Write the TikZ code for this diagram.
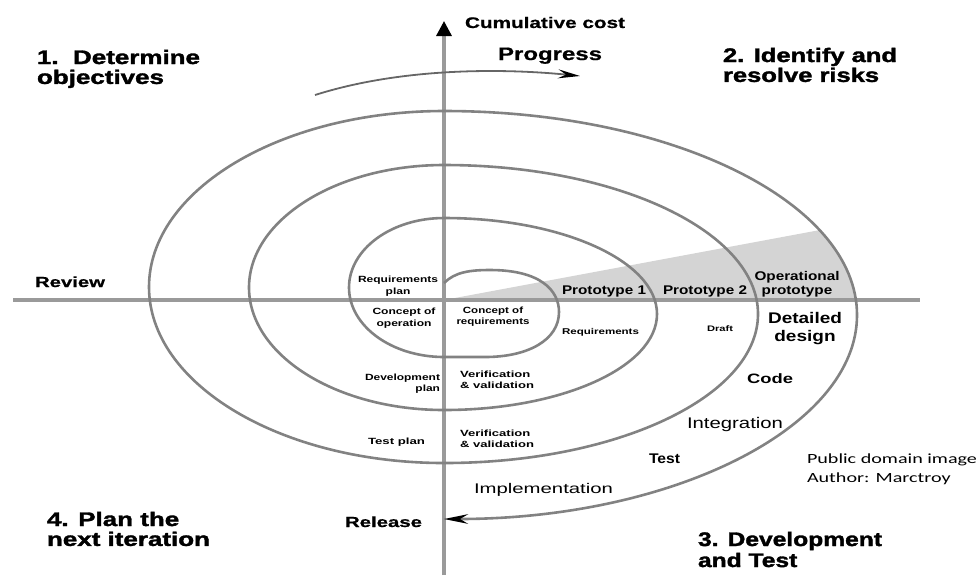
\documentclass[tikz,border=0pt]{standalone}
\usepackage{fontspec}
\usepackage{graphicx}
\usetikzlibrary{arrows.meta}
\newfontfamily\lsans{Liberation Sans}
\newfontfamily\heavy{Liberation Sans}[BoldFeatures={FakeBold=1.6}]
\newfontfamily\semiheavy{Liberation Sans}[BoldFeatures={FakeBold=0.7}]
\newfontfamily\carl{Carlito}
\definecolor{axisgray}{HTML}{9A9A9A}
\definecolor{spiralgray}{HTML}{828282}
\definecolor{arrowgray}{HTML}{666666}
\definecolor{wedgegray}{HTML}{D4D4D4}
% stretch a box to a given width, keeping its height
\newcommand{\fitw}[2]{\resizebox{#1}{\height}{#2}}
\newcommand{\fnt}[2]{\fontsize{#1}{#2}\selectfont}
\begin{document}
\begin{tikzpicture}[x=0.5pt,y=-0.5pt,
  lbl/.style={inner sep=0pt, outer sep=0pt, font=\lsans},
  axisline/.style={draw=axisgray, line width=1.6pt},
  spiralline/.style={draw=spiralgray, line width=1.3pt},
  progressline/.style={draw=arrowgray, line width=0.9pt}]
\useasboundingbox (0,0) rectangle (977,575);

% axes end points
\coordinate (west) at (13,300);
\coordinate (east) at (920,300);
\coordinate (south) at (444,575);
\coordinate (north) at (444,21);
\coordinate (origin) at (444,300);

% shaded prototype wedge, limited by the outer loop
\begin{scope}
  \clip (444,315) ellipse [x radius=206.5pt, y radius=102pt];
  \fill[wedgegray] (origin) -- (900,215.1) -- (900,300) -- cycle;
\end{scope}

% axes
\draw[axisline] (west) -- (east);
\draw[axisline, -{Triangle[length=7.5pt, width=7.5pt, color=black]}] (south) -- (north);

% the spiral, built from half ellipses
\coordinate (spiralstart) at (444,283);
\draw[spiralline, -{Stealth[length=12pt, width=4.8pt, inset=4pt, color=black]}]
  (spiralstart) .. controls (455,272) and (470,270) .. (490,270)
  .. controls (540,270) and (559,290) .. (559,312)
  .. controls (559,340) and (528,357) .. (485,357) -- (444,357)
  arc[start angle=270, end angle=90, x radius=47.5pt, y radius=34.75pt]
  arc[start angle=90, end angle=-90, x radius=106.5pt, y radius=48pt]
  arc[start angle=270, end angle=90, x radius=97.5pt, y radius=61.25pt]
  arc[start angle=90, end angle=-90, x radius=157pt, y radius=74.5pt]
  arc[start angle=270, end angle=90, x radius=147.5pt, y radius=88pt]
  arc[start angle=90, end angle=-90, x radius=206.5pt, y radius=102pt];

% progress arrow
\coordinate (pstart) at (315,95);
\coordinate (pend) at (580,76);
\draw[progressline, -{Stealth[length=11pt, width=4.5pt, inset=4pt, color=black]}]
  (pstart) .. controls (400,68) and (500,68) .. (pend);

% quadrant titles
\node[lbl, anchor=base west] (q1) at (37,64)
  {\fitw{81.5pt}{\heavy\fnt{9.8pt}{9.5pt}\bfseries\begin{tabular}[t]{@{}l@{}}1.\ \ Determine\\objectives\end{tabular}}};
\node[lbl, anchor=base west] (q2) at (723,62)
  {\fitw{87pt}{\heavy\fnt{9.8pt}{9.5pt}\bfseries\begin{tabular}[t]{@{}l@{}}2. Identify and\\resolve risks\end{tabular}}};
\node[lbl, anchor=base west] (q3) at (698,546)
  {\fitw{92pt}{\heavy\fnt{9.8pt}{10.5pt}\bfseries\begin{tabular}[t]{@{}l@{}}3. Development\\and Test\end{tabular}}};
\node[lbl, anchor=base west] (q4) at (47,526)
  {\fitw{81.5pt}{\heavy\fnt{9.8pt}{9.5pt}\bfseries\begin{tabular}[t]{@{}l@{}}4. Plan the\\next iteration\end{tabular}}};

% axis and arrow labels
\node[lbl, anchor=base west] (cost) at (465,28) {\fitw{80pt}{\semiheavy\fnt{7.7pt}{8pt}\bfseries Cumulative cost}};
\node[lbl, anchor=base west] (progress) at (498,60) {\fitw{52pt}{\semiheavy\fnt{9pt}{9pt}\bfseries Progress}};
\node[lbl, anchor=base west] (review) at (35,287) {\fitw{35pt}{\semiheavy\fnt{7.3pt}{8pt}\bfseries Review}};
\node[lbl, anchor=base west] (release) at (345,527) {\fitw{38.5pt}{\semiheavy\fnt{7.3pt}{8pt}\bfseries Release}};

% outer loop, lower right
\node[lbl, anchor=base west] (impl) at (474,493) {\fitw{69.5pt}{\fnt{7pt}{8pt}Implementation}};
\node[lbl, anchor=base west] (test) at (649,463) {\fitw{15.5pt}{\fnt{7pt}{8pt}\bfseries Test}};
\node[lbl, anchor=base west] (integ) at (687,428) {\fitw{48pt}{\fnt{7.7pt}{8pt}Integration}};
\node[lbl, anchor=base west] (code) at (747,383) {\fitw{23pt}{\fnt{6.8pt}{8pt}\bfseries Code}};
\node[lbl, anchor=base] (detail) at (805,323)
  {\fitw{37pt}{\fnt{7.7pt}{9pt}\bfseries\begin{tabular}[t]{@{}c@{}}Detailed\\design\end{tabular}}};

% prototypes
\node[lbl, anchor=base west] (proto1) at (562,294) {\fitw{42pt}{\fnt{6.3pt}{7pt}\bfseries Prototype 1}};
\node[lbl, anchor=base west] (proto2) at (663,294) {\fitw{42pt}{\fnt{6.3pt}{7pt}\bfseries Prototype 2}};
\node[lbl, anchor=base] (opproto) at (797,280)
  {\fitw{42.5pt}{\fnt{6.3pt}{7pt}\bfseries\begin{tabular}[t]{@{}c@{}}Operational\\prototype\end{tabular}}};
\node[lbl] (draft) at (720,329) {\fitw{13pt}{\fnt{4pt}{5pt}\bfseries Draft}};
\node[lbl] (reqs) at (600.5,332) {\fitw{38.5pt}{\fnt{4.2pt}{5pt}\bfseries Requirements}};

% inner loops
\node[lbl] (reqplan) at (398,286)
  {\fitw{40pt}{\fnt{4.5pt}{5.9pt}\bfseries\begin{tabular}{@{}c@{}}Requirements\\plan\end{tabular}}};
\node[lbl] (conop) at (404,318)
  {\fitw{31.5pt}{\fnt{4.5pt}{5.9pt}\bfseries\begin{tabular}{@{}c@{}}Concept of\\operation\end{tabular}}};
\node[lbl] (conreq) at (493,316.5)
  {\fitw{36.5pt}{\fnt{4.5pt}{5.6pt}\bfseries\begin{tabular}{@{}c@{}}Concept of\\requirements\end{tabular}}};
\node[lbl, anchor=east] (devplan) at (440,383.5)
  {\fitw{37.5pt}{\fnt{4.5pt}{5.6pt}\bfseries\begin{tabular}{@{}r@{}}Development\\plan\end{tabular}}};
\node[lbl, anchor=west] (vv1) at (460,381)
  {\fitw{37pt}{\fnt{4.5pt}{5.2pt}\bfseries\begin{tabular}{@{}l@{}}Verification\\\&~validation\end{tabular}}};
\node[lbl, anchor=east] (testplan) at (425,442) {\fitw{28.5pt}{\fnt{4.5pt}{5pt}\bfseries Test plan}};
\node[lbl, anchor=west] (vv2) at (460,440)
  {\fitw{37pt}{\fnt{4.5pt}{5.2pt}\bfseries\begin{tabular}{@{}l@{}}Verification\\\&~validation\end{tabular}}};

% credit
\node[lbl, anchor=base west] (credit) at (807,463)
  {\fitw{85pt}{\carl\fnt{7pt}{9.5pt}\begin{tabular}[t]{@{}l@{}}Public domain image\\Author: Marctroy\end{tabular}}};
\end{tikzpicture}
\end{document}
